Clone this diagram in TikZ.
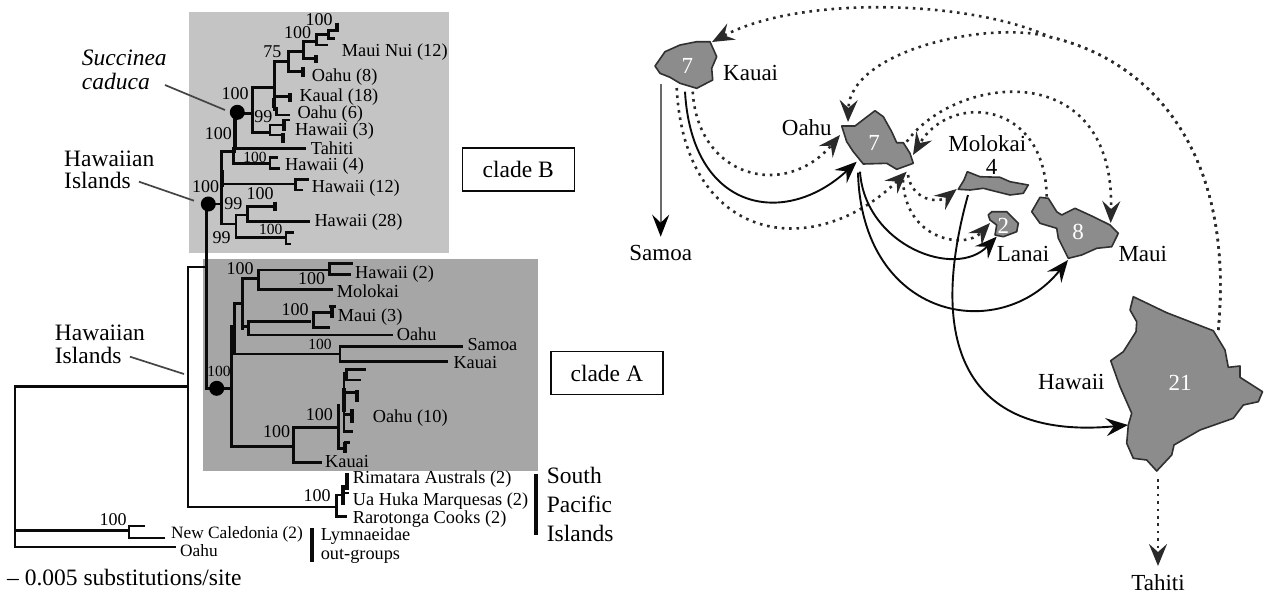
\documentclass[tikz,border=0pt]{standalone}
\usepackage{fontspec}
\setmainfont{Liberation Serif}
\usepackage{xcolor}
\usetikzlibrary{arrows.meta, calc}
\definecolor{cladeBFill}{HTML}{C4C4C4}
\definecolor{cladeAFill}{HTML}{A6A6A6}
\definecolor{islandFill}{HTML}{8C8C8C}
\definecolor{islandStroke}{HTML}{303030}
\definecolor{treeStroke}{HTML}{0A0A0A}
\definecolor{dotStroke}{HTML}{2A2A2A}
\definecolor{leaderStroke}{HTML}{444444}
\definecolor{samoaStroke}{HTML}{6A6A6A}
\tikzset{
  branch/.style={draw=treeStroke, line width=2.5pt, line cap=rect, line join=miter},
  heavy/.style={draw=treeStroke, line width=3.8pt},
  blob/.style={circle, fill=black, inner sep=0pt, minimum size=15pt},
  leaf/.style={anchor=west, inner sep=0pt, font=\fontsize{18.3}{20}\selectfont},
  boot/.style={inner sep=0pt, font=\fontsize{18}{20}\selectfont},
  bootsmall/.style={inner sep=0pt, font=\fontsize{15.5}{17}\selectfont},
  caption/.style={anchor=west, inner sep=0pt, font=\fontsize{23.5}{26}\selectfont},
  cladebox/.style={draw=treeStroke, line width=1.6pt, fill=white, inner sep=0pt,
    minimum width=112pt, minimum height=43pt, font=\fontsize{23.5}{26}\selectfont},
  leader/.style={draw=leaderStroke, line width=1.7pt},
  island/.style={fill=islandFill, draw=islandStroke, line width=1.6pt, line join=round},
  isleno/.style={inner sep=0pt, text=white, font=\fontsize{23}{26}\selectfont},
  isletext/.style={inner sep=0pt, font=\fontsize{23}{26}\selectfont},
  solidway/.style={draw=treeStroke, line width=1.9pt, -{Stealth[length=22pt,width=18pt,inset=8pt]}},
  dottedway/.style={draw=dotStroke, line width=2.6pt, dash pattern=on 2.6pt off 4.8pt,
    -{Stealth[length=22pt,width=18pt,inset=8pt]}},
}
\begin{document}
\begin{tikzpicture}[x=1pt, y=-1pt]
  \useasboundingbox (0,0) rectangle (1264,595);
  \fill[cladeBFill] (189,12) rectangle (449,253);
  \fill[cladeAFill] (203,259) rectangle (538,471);

  % clade B
  \draw[heavy] (336.7,22.7) -- (336.7,31.7);
  \draw[branch] (336.7,30.7) -- (328.3,30.7) -- (328.3,38.3) -- (333.3,38.3);
  \draw[branch] (328.3,34.3) -- (316.7,34.3) -- (316.7,45) -- (326.7,45);
  \draw[branch] (316.7,41.7) -- (303.3,41.7) -- (303.3,58.3) -- (316,58.3);
  \draw[heavy] (316,55) -- (316,63.3);
  \draw[branch] (303.3,51.7) -- (288.3,51.7) -- (288.3,71.7) -- (302.7,71.7);
  \draw[heavy] (302.7,66.7) -- (302.7,77.3);
  \draw[branch] (288.3,61.7) -- (274.3,61.7) -- (274.3,110);
  \draw[branch] (274.3,96.7) -- (290,96.7);
  \draw[heavy] (290,92.7) -- (290,101.7);
  \draw[heavy] (274.3,98.3) -- (274.3,108.3);
  \draw[branch] (276.7,108.3) -- (276.7,115) -- (288.3,115);
  \draw[branch] (274.3,87.3) -- (252.7,87.3) -- (252.7,132.3) -- (270,132.3);
  \draw[branch] (237.3,113.3) -- (252.7,113.3);
  \draw[branch] (284,125) -- (270,125) -- (270,135) -- (282.7,135);
  \draw[heavy] (282.7,133.3) -- (282.7,143.3);
  \draw[heavy] (284,119.3) -- (284,130.7);
  \draw[branch] (284,120) -- (288.3,120);
  \draw[heavy] (235,113) -- (235,148.3);
  \draw[branch] (221.7,224) -- (221.7,151.7) -- (235,151.7);
  \draw[branch] (305,148.3) -- (233.3,148.3) -- (233.3,163.3) -- (270,163.3);
  \draw[branch] (276.7,157.3) -- (270,157.3) -- (270,168.3) -- (278.3,168.3);
  \draw[heavy] (221.7,170) -- (221.7,186.7);
  \draw[branch] (221.7,184) -- (295,184);
  \draw[branch] (307.7,179.3) -- (295.7,179.3) -- (295.7,190) -- (301.7,190);
  \draw[branch] (208,204) -- (221.7,204);
  \draw[branch] (221.7,224) -- (236,224);
  \draw[branch] (247.3,215) -- (236,215) -- (236,237.3) -- (286,237.3);
  \draw[branch] (275,206.7) -- (247.3,206.7) -- (247.3,221.7) -- (309,221.7);
  \draw[heavy] (275,201.7) -- (275,210.7);
  \draw[branch] (292.3,232.3) -- (286,232.3) -- (286,244) -- (290,244);

  % trunk and outer branches
  \draw[branch] (206.5,204) -- (206.5,388.3) -- (231.7,388.3);
  \draw[branch] (206.5,267) -- (188,267) -- (188,507) -- (337,507);
  \draw[branch] (15,547) -- (15,386.7) -- (188,386.7);
  \draw[branch] (15,547) -- (175,547);
  \draw[branch] (15,530.7) -- (129,530.7);
  \draw[branch] (144,526) -- (129,526) -- (129,538) -- (164,538);

  % clade A
  \draw[branch] (231.7,326.7) -- (231.7,446.7) -- (293.3,446.7);
  \draw[heavy] (232.5,326.7) -- (232.5,353.3);
  \draw[branch] (234.3,353.3) -- (234.3,303.3) -- (242.7,303.3);
  \draw[branch] (242.7,328.3) -- (242.7,278.3) -- (258.3,278.3);
  \draw[branch] (329.3,270) -- (258.3,270) -- (258.3,289.3) -- (331.7,289.3);
  \draw[branch] (351.7,263.3) -- (329.3,263.3) -- (329.3,274.3) -- (350,274.3);
  \draw[branch] (242.7,326.7) -- (248.3,326.7);
  \draw[branch] (310,321.7) -- (248.3,321.7) -- (248.3,335) -- (391.7,335);
  \draw[branch] (331.7,312.3) -- (313.3,312.3) -- (313.3,327.7) -- (328.3,327.7);
  \draw[heavy] (331.7,306.7) -- (331.7,317.7);
  \draw[branch] (330,306.7) -- (335,306.7);
  \draw[branch] (231.7,354) -- (340,354);
  \draw[branch] (461.7,346.7) -- (340,346.7) -- (340,361.7) -- (446.7,361.7);
  \draw[branch] (320.7,462.3) -- (293.3,462.3) -- (293.3,427.3) -- (338.3,427.3);
  \draw[branch] (338.3,405) -- (338.3,448.3) -- (345,448.3);
  \draw[branch] (344,373.3) -- (344,431.7);
  \draw[heavy] (344,388) -- (344,412);
  \draw[branch] (365,369.3) -- (346.7,369.3) -- (346.7,380) -- (359.3,380);
  \draw[branch] (344,392.3) -- (356.7,392.3);
  \draw[heavy] (356.7,390) -- (356.7,401.7);
  \draw[branch] (344,414.3) -- (351.7,414.3);
  \draw[heavy] (351.7,409.3) -- (351.7,422.7);
  \draw[branch] (344,431.7) -- (351.7,431.7);
  \draw[heavy] (345,442.3) -- (345,453.3);
  \draw[branch] (345,442.3) -- (349,442.3);

  % south pacific
  \draw[branch] (336.7,495) -- (336.7,516.7) -- (346,516.7);
  \draw[branch] (336.7,495) -- (343.3,495);
  \draw[heavy] (343.3,485) -- (343.3,505);
  \draw[heavy] (346.7,473) -- (346.7,490);
  \draw[branch] (343.3,493) -- (348,493);

  % blobs and leaders
  \node[blob] (dotSuccinea) at (237.3,112.3) {};
  \node[blob] (dotHawaiian) at (208.3,204) {};
  \node[blob] (dotCladeA) at (216.7,388.3) {};

  \node[caption, font=\fontsize{23.5}{26}\selectfont\itshape] (succinea) at (81.7,58) {Succinea};
  \node[caption, font=\fontsize{23.5}{26}\selectfont\itshape] (caduca) at (81.7,81.7) {caduca};
  \node[caption] (hawaiianUp) at (64,159) {Hawaiian};
  \node[caption] (islandsUp) at (64,180.7) {Islands};
  \node[caption] (hawaiianLow) at (54.7,333) {Hawaiian};
  \node[caption] (islandsLow) at (54.7,355) {Islands};
  \coordinate (leadSuccinea) at (165,85);
  \coordinate (leadUp) at (139,181.7);
  \coordinate (leadLow) at (130,356.7);
  \coordinate (tipLow) at (184,374);
  \draw[leader] (leadSuccinea) -- (225,110);
  \draw[leader] (leadUp) -- (194,200.7);
  \draw[leader] (leadLow) -- (tipLow);

  % labels clade B
  \node[boot] (bsB1) at (319,19.3) {100};
  \node[boot] (bsB2) at (297.7,32.7) {100};
  \node[boot] (bsB3) at (272.3,51.7) {75};
  \node[boot] (bsB4) at (235,94) {100};
  \node[boot] (bsB5) at (263.3,116.7) {99};
  \node[boot] (bsB6) at (218.3,133.3) {100};
  \node[bootsmall] (bsB7) at (255,157.3) {100};
  \node[boot] (bsB8) at (205.7,186.7) {100};
  \node[boot] (bsB9) at (233.3,204) {99};
  \node[boot] (bsB10) at (260,194) {100};
  \node[bootsmall] (bsB11) at (270.7,229.3) {100};
  \node[boot] (bsB12) at (221.7,237.3) {99};
  \node[leaf] (mauiNui) at (341.7,51.7) {Maui Nui (12)};
  \node[leaf] (oahuEight) at (311.7,76.7) {Oahu (8)};
  \node[leaf] (kauaiEighteen) at (299.3,96.7) {Kaual (18)};
  \node[leaf] (oahuSix) at (297.3,114) {Oahu (6)};
  \node[leaf] (hawaiiThree) at (295,131) {Hawaii (3)};
  \node[leaf] (tahitiLeaf) at (310.7,148.5) {Tahiti};
  \node[leaf] (hawaiiFour) at (285,166.5) {Hawaii (4)};
  \node[leaf] (hawaiiTwelve) at (311.7,188) {Hawaii (12)};
  \node[leaf] (hawaiiTwentyEight) at (314.3,222.3) {Hawaii (28)};

  % labels clade A
  \node[boot] (bsA1) at (240,268.3) {100};
  \node[boot] (bsA2) at (311.7,279) {100};
  \node[boot] (bsA3) at (295,310) {100};
  \node[bootsmall] (bsA4) at (320,344.3) {100};
  \node[bootsmall] (bsA5) at (219,371) {100};
  \node[boot] (bsA6) at (319.3,414.3) {100};
  \node[boot] (bsA7) at (276.7,431.7) {100};
  \node[leaf] (hawaiiTwo) at (355,274.3) {Hawaii (2)};
  \node[leaf] (molokaiLeaf) at (336.7,291) {Molokai};
  \node[leaf] (mauiThree) at (337.7,317.3) {Maui (3)};
  \node[leaf] (oahuLeaf) at (396.7,334.3) {Oahu};
  \node[leaf] (samoaLeaf) at (467.3,345) {Samoa};
  \node[leaf] (kauaiLeaf) at (453.3,362.3) {Kauai};
  \node[leaf] (oahuTen) at (372.7,417.7) {Oahu (10)};
  \node[leaf] (kauaiLeafLow) at (325,461.7) {Kauai};

  % labels outer
  \node[boot] (bsP1) at (317,496) {100};
  \node[boot] (bsO1) at (113,519.3) {100};
  \node[leaf] (rimatara) at (352.7,479) {Rimatara Australs (2)};
  \node[leaf] (uaHuka) at (352.7,501.2) {Ua Huka Marquesas (2)};
  \node[leaf] (rarotonga) at (352.7,519.3) {Rarotonga Cooks (2)};
  \node[leaf, font=\fontsize{17.3}{19}\selectfont] (caledonia) at (171,534) {New Caledonia (2)};
  \node[leaf, font=\fontsize{17.3}{19}\selectfont] (oahuOut) at (180,551) {Oahu};
  \node[leaf] (lymnaeidae) at (320.6,536) {Lymnaeidae};
  \node[leaf] (outgroups) at (320.6,556.7) {out-groups};
  \draw[heavy, line width=4.4pt] (311.7,528) -- (311.7,561.7);
  \draw[heavy, line width=4.4pt] (536,474) -- (536,535);
  \node[caption] (south) at (546.7,475) {South};
  \node[caption] (pacific) at (546.7,504) {Pacific};
  \node[caption] (islandsPacific) at (546.7,533) {Islands};
  \node[caption] (scale) at (7,578) {-- 0.005 substitutions/site};
  \node[cladebox] (cladeB) at (518.3,169.7) {clade B};
  \node[cladebox] (cladeA) at (606.8,373) {clade A};

  % islands
  \draw[island] (655,66) -- (665,51.7) -- (680,45) -- (696.7,41.7) -- (710,41.7) -- (716.7,56.7) -- (711.7,68.3) -- (712.7,80) -- (696.7,88.3) -- (680,83.3) -- (670,77.3) -- (660,73.3) -- cycle;
  \draw[island] (841.7,126) -- (855,126) -- (865,118.3) -- (875,110.7) -- (883.3,116.7) -- (891.7,131.7) -- (896.7,142.7) -- (903.3,142.7) -- (910,153.3) -- (913.3,163.3) -- (896.7,169.3) -- (886.7,163.3) -- (863.3,164) -- (853.3,151.7) -- (846.7,141.7) -- cycle;
  \draw[island] (958.3,189.3) -- (964,180) -- (967.3,171.7) -- (980,176.7) -- (1000,177.3) -- (1010,181.7) -- (1028.3,185) -- (1023.3,193.3) -- (1010,195) -- (996.7,191.7) -- (983.3,188.3) -- (970,190) -- cycle;
  \draw[island] (988.3,215) -- (991.7,211.7) -- (1006.7,211.7) -- (1018.3,223.3) -- (1016.7,231.7) -- (1003.3,236.7) -- (995,235) -- (996.7,225) -- (990,220) -- cycle;
  \draw[island] (1031.7,211.7) -- (1040,197.3) -- (1048.3,198.3) -- (1056.7,211.7) -- (1061.7,215) -- (1075,208.3) -- (1093.3,216.7) -- (1110,225) -- (1118.3,233.3) -- (1111.7,246.7) -- (1096.7,248.3) -- (1081.7,255) -- (1068.3,258.3) -- (1058.3,238.3) -- (1056.7,228.3) -- (1040,223.3) -- cycle;
  \draw[island] (1133.3,296.7) -- (1130,310) -- (1136.7,321.7) -- (1136,331.7) -- (1123.3,351.7) -- (1110.7,360.7) -- (1120,386.7) -- (1131.7,413.3) -- (1128.3,425) -- (1126.7,443.3) -- (1133.3,458.3) -- (1146.7,460) -- (1156.7,471) -- (1171.7,455) -- (1174,445) -- (1200,430) -- (1233.3,418.3) -- (1243.3,405) -- (1258.3,401.7) -- (1262.5,391.7) -- (1240,377.3) -- (1240,366) -- (1228.3,367.3) -- (1225,350) -- (1213.3,330.7) -- (1166.7,312.7) -- cycle;

  \node[isleno] (kauaiNo) at (687.3,66) {7};
  \node[isleno] (oahuNo) at (874,143.3) {7};
  \node[isletext] (molokaiNo) at (991.7,166.7) {4};
  \node[isleno] (lanaiNo) at (1003.3,226) {2};
  \node[isleno] (mauiNo) at (1078,232.3) {8};
  \node[isleno] (hawaiiNo) at (1180,382.7) {21};

  \node[isletext, anchor=west] (kauai) at (723,72.7) {Kauai};
  \node[isletext, anchor=west] (oahu) at (781.7,127.7) {Oahu};
  \node[isletext] (molokai) at (987.3,143.3) {Molokai};
  \node[isletext, anchor=west] (lanai) at (996.7,254) {Lanai};
  \node[isletext, anchor=west] (maui) at (1118.3,254) {Maui};
  \node[isletext, anchor=west] (hawaii) at (1038,381.7) {Hawaii};
  \node[isletext] (samoa) at (660.7,253) {Samoa};
  \node[isletext] (tahiti) at (1158,583) {Tahiti};

  % arrow ends
  \coordinate (kauaiOutA) at (692.7,91.7);
  \coordinate (kauaiOutB) at (685,91.7);
  \coordinate (kauaiOutC) at (676.7,88);
  \coordinate (kauaiOutS) at (660.7,84);
  \coordinate (samoaIn) at (660.7,236.7);
  \coordinate (kauaiIn) at (712,42);
  \coordinate (oahuInA) at (840,135);
  \coordinate (oahuInB) at (856.7,161.7);
  \coordinate (oahuInC) at (906.7,171.7);
  \coordinate (oahuInD) at (913,155);
  \coordinate (oahuInE) at (848,122);
  \coordinate (oahuOutA) at (908,175);
  \coordinate (oahuOutB) at (903,180);
  \coordinate (oahuOutC) at (860,171.7);
  \coordinate (oahuOutD) at (858,172.7);
  \coordinate (oahuOutE) at (906.7,141.7);
  \coordinate (molokaiIn) at (956.7,189);
  \coordinate (molokaiOut) at (968,195);
  \coordinate (lanaiInA) at (990,223);
  \coordinate (lanaiInB) at (996.7,236.7);
  \coordinate (mauiInA) at (1068,260);
  \coordinate (mauiInB) at (1110.7,223);
  \coordinate (mauiOut) at (1046.7,196.7);
  \coordinate (hawaiiIn) at (1128,425);
  \coordinate (hawaiiOutTop) at (1218.3,330);
  \coordinate (hawaiiBend) at (1050,37);
  \coordinate (hawaiiOutLow) at (1158,479);
  \coordinate (tahitiIn) at (1158,566);

  \draw[draw=samoaStroke, line width=2.4pt, -{Stealth[length=22pt,width=17pt,inset=8pt,color=black]}] (kauaiOutS) -- (samoaIn);
  \draw[dottedway] (kauaiOutA) .. controls (698,178) and (785,200) .. (oahuInA);
  \draw[solidway] (kauaiOutB) .. controls (692,212) and (785,228) .. (oahuInB);
  \draw[dottedway] (kauaiOutC) .. controls (685,245) and (815,262) .. (oahuInC);
  \draw[dottedway] (oahuOutA) .. controls (912,200) and (938,204) .. (molokaiIn);
  \draw[dottedway] (oahuOutB) .. controls (905,240) and (965,250) .. (lanaiInA);
  \draw[solidway] (oahuOutC) .. controls (865,245) and (955,280) .. (lanaiInB);
  \draw[solidway] (oahuOutD) .. controls (862,320) and (1000,345) .. (mauiInA);
  \draw[solidway] (molokaiOut) .. controls (925,350) and (970,440) .. (hawaiiIn);
  \draw[dottedway] (oahuOutE) .. controls (955,75) and (1115,55) .. (mauiInB);
  \draw[dottedway] (mauiOut) .. controls (1045,100) and (950,92) .. (oahuInD);
  \draw[dottedway] (hawaiiOutTop) .. controls (1235,150) and (1150,60) .. (hawaiiBend) .. controls (990,20) and (850,50) .. (oahuInE);
  \draw[dottedway] (hawaiiOutTop) .. controls (1235,150) and (1150,60) .. (hawaiiBend) .. controls (970,0) and (800,-5) .. (kauaiIn);
  \draw[dottedway] (hawaiiOutLow) -- (tahitiIn);
\end{tikzpicture}
\end{document}
